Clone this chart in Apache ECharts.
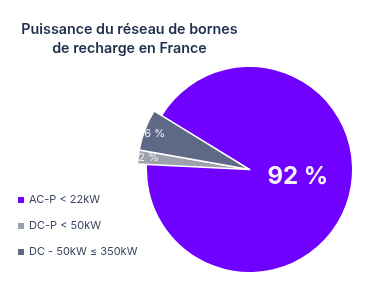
<!DOCTYPE html>
<html>
<head>
<meta charset="utf-8">
<script src="https://cdn.jsdelivr.net/npm/echarts@6/dist/echarts.min.js"></script>
<style>
html,body{margin:0;padding:0;background:#fff;}
#chart{width:365px;height:304px;}
</style>
</head>
<body>
<div id="chart"></div>
<script>
const titleText = 'Puissance du réseau de bornes\nde recharge en France';
const categories = ['AC-P < 22kW', 'DC-P < 50kW', 'DC - 50kW \u2264 350kW'];
const values = [92, 2, 6];
const colors = ['#7000ff', '#9da1ab', '#5e6a85'];

const FONT = 'Inter';
const chart = echarts.init(document.getElementById('chart'), null, {renderer: 'canvas'});

const baseData = categories.map((name, i) => ({
  name: name,
  value: values[i],
  itemStyle: {color: colors[i]},
  label: {show: i === 0}
}));
const outerData = categories.map((name, i) => ({
  name: name,
  value: values[i],
  itemStyle: i === 0 ? {color: 'rgba(0,0,0,0)', borderWidth: 0} : {color: colors[i], borderColor: '#ffffff', borderWidth: 1.5}
}));
const labelData = categories.map((name, i) => ({
  name: name,
  value: values[i],
  itemStyle: {color: 'rgba(0,0,0,0)'},
  label: {show: i !== 0}
}));

const center = [249.5, 169.5];
const startAngle = 148.4;

chart.setOption({
  animation: false,
  backgroundColor: '#ffffff',
  title: {
    text: titleText,
    left: 129.5,
    top: 20,
    padding: 0,
    textAlign: 'center',
    textStyle: {
      fontFamily: FONT,
      fontSize: 14.3,
      fontWeight: 600,
      color: '#1e2f4c',
      lineHeight: 19
    }
  },
  legend: {
    data: categories,
    orient: 'vertical',
    left: 18,
    top: 193,
    padding: 0,
    itemWidth: 6,
    itemHeight: 6,
    itemGap: 12,
    icon: 'rect',
    selectedMode: false,
    textStyle: {
      fontFamily: FONT,
      fontSize: 11,
      color: '#3b4862',
      lineHeight: 14
    }
  },
  series: [
    {
      type: 'pie',
      center: center,
      radius: [0, 102.5],
      startAngle: startAngle,
      clockwise: true,
      silent: true,
      data: baseData,
      label: {
        position: 'inside',
        formatter: '{c} %',
        fontFamily: FONT,
        fontSize: 24,
        fontWeight: 'bold',
        color: '#f4f1fa'
      },
      labelLayout: {dx: -3.5, dy: -9},
      labelLine: {show: false},
      emphasis: {disabled: true}
    },
    {
      type: 'pie',
      center: center,
      radius: [0, 112],
      startAngle: startAngle,
      clockwise: true,
      silent: true,
      data: outerData,
      label: {show: false},
      labelLine: {show: false},
      emphasis: {disabled: true}
    },
    {
      type: 'pie',
      center: center,
      radius: [85, 112],
      startAngle: startAngle,
      clockwise: true,
      silent: true,
      data: labelData,
      label: {
        position: 'inside',
        formatter: '{c} %',
        fontFamily: FONT,
        fontSize: 11,
        color: '#eef0f5'
      },
      labelLine: {show: false},
      emphasis: {disabled: true}
    }
  ]
});
</script>
</body>
</html>
